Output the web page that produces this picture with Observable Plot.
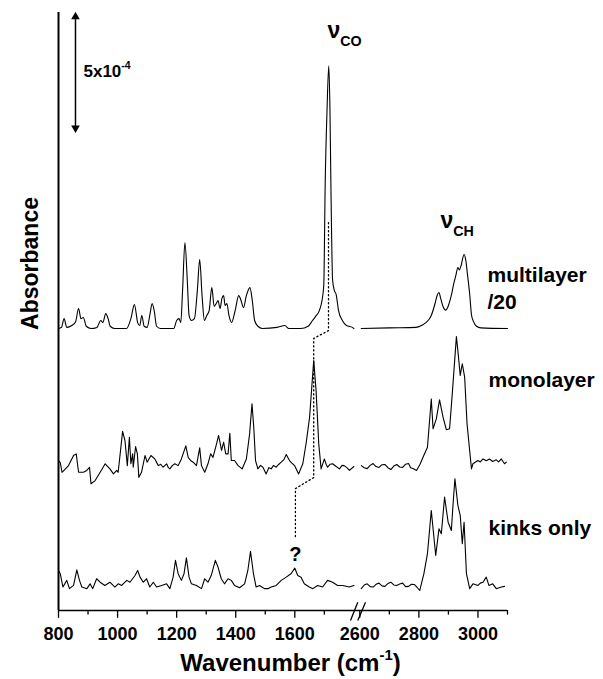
<!DOCTYPE html>
<html><head><meta charset="utf-8">
<script src="https://cdn.jsdelivr.net/npm/d3@7"></script>
<script src="https://cdn.jsdelivr.net/npm/@observablehq/plot@0.6"></script>
<style>body{margin:0;background:#fff}</style>
</head><body><div id="chart"></div>
<script>
// ---- data: [wavenumber (cm-1), absorbance (x1e-4, relative to the trace baseline)] ----
const multilayerLow = [[800,0],[810,0.05],[819,0.43],[828,0.05],[845,0.13],[858,0.3],[868,0.87],[876,0.43],[884,0.48],[894,0.1],[910,0],[930,0.05],[943,0.35],[950,0.26],[960,0.65],[968,0.43],[975,0.1],[990,0],[1030,0],[1045,0.43],[1057,1.04],[1068,0.26],[1075,0.13],[1082,0.57],[1090,0.1],[1100,0.05],[1110,0.65],[1117,1.09],[1124,0.78],[1132,0.1],[1145,0],[1190,0],[1200,0.35],[1208,0.43],[1214,0.26],[1220,1.65],[1228,3.74],[1236,2.09],[1242,0.57],[1250,0.35],[1260,0.43],[1270,1.65],[1278,3.0],[1286,1.43],[1294,0.35],[1302,0.57],[1310,0.78],[1319,1.78],[1327,0.96],[1334,1.09],[1340,1.22],[1347,0.87],[1353,1.3],[1359,1.43],[1364,1.0],[1370,1.09],[1377,0.57],[1386,0.26],[1398,0.78],[1410,1.43],[1418,1.22],[1426,0.91],[1436,1.43],[1448,1.78],[1456,1.22],[1464,0.35],[1475,0.1],[1490,0],[1540,0.05],[1566,0.13],[1580,0],[1620,0],[1645,0.1],[1660,0.35],[1670,0.52],[1683,0.78],[1692,1.22],[1698,1.87],[1703,6.43],[1709,9.48],[1715,11.43],[1719,9.48],[1722,6.43],[1728,2.09],[1734,1.65],[1740,1.48],[1748,0.78],[1761,0.35],[1775,0.13],[1795,0.05],[1800,0]];
const multilayerHigh = [[2605,0],[2700,0.03],[2790,0.05],[2803,0.1],[2815,0.18],[2825,0.27],[2842,0.57],[2855,1.1],[2862,1.45],[2868,1.57],[2874,1.3],[2882,0.95],[2891,0.8],[2900,1.0],[2910,1.45],[2918,1.95],[2925,2.3],[2932,2.65],[2937,2.55],[2943,2.75],[2953,3.22],[2959,2.95],[2965,2.3],[2972,1.5],[2978,0.6],[2985,0.3],[2995,0.1],[3010,0.03],[3100,0]];
const monolayerLow = [[800,0.26],[806,0.17],[812,-0.25],[834,0.04],[851,0.48],[860,0.55],[868,-0.25],[884,-0.25],[896,-0.17],[905,-0.03],[910,-0.75],[924,-0.61],[941,-0.25],[958,0.12],[974,-0.1],[986,-0.32],[997,-0.17],[1002,-0.25],[1017,1.53],[1025,1.13],[1033,0.04],[1040,1.27],[1045,0.12],[1051,0.55],[1053,-0.03],[1061,0.87],[1067,0.55],[1072,-0.47],[1081,-0.25],[1093,0.48],[1100,0.19],[1113,0.48],[1126,0.33],[1138,0.04],[1146,0.1],[1154,-0.03],[1166,0.12],[1172,-0.05],[1177,-0.1],[1186,0.05],[1194,0.12],[1205,0.04],[1216,0.33],[1231,0.9],[1239,0.4],[1248,0.25],[1256,0.19],[1267,0.04],[1278,0.81],[1284,0.04],[1295,-0.25],[1306,0.12],[1315,0.55],[1323,0.4],[1335,0.99],[1342,1.35],[1352,0.7],[1359,1.06],[1366,0.55],[1374,0.55],[1380,1.45],[1385,0.26],[1396,0.26],[1408,0.04],[1422,-0.1],[1436,0.33],[1447,1.42],[1455,2.73],[1461,1.71],[1467,0.26],[1475,-0.1],[1484,0.05],[1492,-0.03],[1503,-0.32],[1512,-0.05],[1520,-0.1],[1528,0.05],[1537,-0.03],[1546,0.1],[1554,0.19],[1563,0.3],[1571,0.52],[1582,0.26],[1590,0.15],[1599,0.04],[1613,-0.32],[1627,0.12],[1638,0.99],[1650,2.14],[1664,4.61],[1672,3.3],[1681,0.99],[1689,-0.1],[1700,0.33],[1706,0.1],[1711,-0.03],[1720,0.1],[1728,0.12],[1740,0.0],[1751,-0.1],[1760,0.05],[1767,0.04],[1776,-0.05],[1785,-0.17],[1800,0]];
const monolayerHigh = [[2605,0.04],[2615,-0.05],[2625,-0.09],[2635,0.05],[2645,0.13],[2655,0.0],[2665,-0.04],[2675,0.08],[2685,0.09],[2695,-0.05],[2705,-0.13],[2715,0.02],[2725,0.09],[2735,-0.02],[2745,-0.04],[2755,0.1],[2765,0.13],[2772,-0.05],[2780,-0.09],[2792,-0.17],[2804,0.1],[2814,0.4],[2829,0.84],[2842,2.94],[2848,1.64],[2859,2.07],[2870,2.9],[2882,2.14],[2893,1.6],[2904,1.64],[2913,3.16],[2927,5.65],[2932,5.04],[2940,3.96],[2947,4.47],[2955,3.88],[2963,1.86],[2978,-0.1],[2983,0.12],[3000,0.26],[3008,0.2],[3017,0.33],[3028,0.25],[3039,0.33],[3050,0.22],[3062,0.29],[3070,0.2],[3079,0.33],[3090,0.12],[3096,0.19]];
const kinksLow = [[800,0.65],[806,0.51],[815,-0.07],[828,0.22],[837,-0.14],[851,0],[862,0.68],[871,0.22],[879,-0.07],[896,-0.14],[907,0.07],[916,-0.14],[929,0.29],[941,0.14],[957,0],[974,0.14],[991,-0.07],[1002,0.07],[1014,0],[1031,0.22],[1042,0.14],[1059,0.43],[1068,0.65],[1076,0.36],[1087,0.14],[1098,0.29],[1109,-0.07],[1121,0.14],[1132,-0.07],[1149,0],[1166,0.07],[1177,-0.14],[1188,0.36],[1196,1.09],[1205,0.51],[1216,0.22],[1225,0.51],[1233,1.2],[1242,0.36],[1250,0.07],[1267,0],[1284,-0.14],[1295,0.29],[1306,0.14],[1317,0.43],[1331,1.09],[1340,0.8],[1351,0.29],[1362,0.07],[1374,0.29],[1385,0.22],[1396,0],[1413,-0.1],[1430,0.07],[1441,0.65],[1450,1.48],[1460,0.51],[1469,-0.07],[1481,0],[1497,-0.14],[1509,-0.14],[1520,-0.07],[1537,0],[1554,0.22],[1571,0.36],[1587,0.51],[1600,0.75],[1610,0.43],[1621,0.36],[1632,0.07],[1649,-0.07],[1661,-0.14],[1677,0],[1694,-0.07],[1711,0.22],[1728,0.14],[1745,0],[1762,0],[1784,-0.07],[1800,0]];
const kinksHigh = [[2605,-0.14],[2615,0.02],[2625,0.07],[2635,-0.05],[2645,-0.07],[2655,0.05],[2665,0.1],[2675,-0.02],[2685,-0.04],[2695,0.08],[2705,0.14],[2715,0.02],[2725,0],[2735,0.06],[2745,0.1],[2755,-0.05],[2765,-0.04],[2775,0.05],[2785,0.04],[2795,-0.1],[2803,-0.22],[2817,0.51],[2829,1.38],[2842,3.26],[2857,1.3],[2868,2.46],[2876,2.25],[2887,3.84],[2899,2.75],[2910,2.39],[2915,3.4],[2922,4.64],[2932,3.48],[2940,3.04],[2947,1.81],[2953,2.75],[2961,0.51],[2972,-0.14],[2983,0.07],[3000,0],[3008,0.1],[3017,0.14],[3028,0.36],[3037,0],[3050,0.07],[3062,-0.14],[3079,-0.07],[3090,-0.04]];

const traceNames = ["multilayer", "monolayer", "kinks only"];
const traceOffsets = [12.26, 6.26, 1.09];           // vertical stacking (x1e-4)
const traceParts = [[multilayerLow, multilayerHigh], [monolayerLow, monolayerHigh], [kinksLow, kinksHigh]];

const majorTicks = [800, 1000, 1200, 1400, 1600, 2600, 2800, 3000];
const minorTicks = [900, 1100, 1300, 1500, 1700, 2700, 2900, 3100];

// dotted guide following the C=O band shift [wavenumber, absorbance]
const coShiftGuide = [[1714,16.87],[1714,12.17],[1664,11.83],[1664,5.78],[1602,5.30],[1602,3.17]];

// ---- broken axis: 800–1800 then 2600–3100, same scale ----
const toU = w => (w <= 2000 ? w : w - 780);

const rowsSmooth = [], rowsNoisy = [];
traceParts.forEach((parts, i) => parts.forEach((arr, k) => arr.forEach(([w, a]) =>
  (i === 0 ? rowsSmooth : rowsNoisy).push({u: toU(w), v: a + traceOffsets[i], z: traceNames[i] + k}))));

const font = "Liberation Sans, Arial, Helvetica, sans-serif";
const T = (data, o) => Plot.text(data, {fill: "black", fontWeight: "bold", lineAnchor: "bottom", ...o});

const svg = Plot.plot({
  width: 603, height: 679,
  marginLeft: 58, marginRight: 96, marginTop: 10, marginBottom: 69,
  x: {domain: [800, 2320], axis: null},
  y: {domain: [0, 26.09], axis: null},
  style: {fontFamily: font, background: "white", overflow: "visible"},
  marks: [
    // axes
    Plot.ruleX([800], {y1: 0, y2: 26.0, stroke: "black", strokeWidth: 2}),
    Plot.ruleY([0], {x1: 800, x2: 2320, stroke: "black", strokeWidth: 1.5}),
    Plot.ruleX(majorTicks, {x: toU, y1: 0, y2: -0.34, stroke: "black", strokeWidth: 1.3}),
    Plot.ruleX(minorTicks, {x: toU, y1: 0, y2: -0.2, stroke: "black", strokeWidth: 1.3}),
    T(majorTicks, {x: toU, y: -1.3, text: d => String(d), fontSize: 18, textAnchor: "middle"}),
    Plot.link([{x1: 1788.5, y1: -0.43, x2: 1813.2, y2: 0.36}, {x1: 1813.2, y1: -0.43, x2: 1839.3, y2: 0.36}],
      {x1: "x1", y1: "y1", x2: "x2", y2: "y2", stroke: "black", strokeWidth: 1.3}),
    T([0], {x: 1585.4, y: -2.61, text: () => "Wavenumber (cm^{-1})", fontSize: 24, textAnchor: "middle"}),
    T([0], {x: 705.2, y: 15.09, text: () => "Absorbance", fontSize: 23, rotate: -90, textAnchor: "middle", lineAnchor: "middle"}),
    // scale bar
    Plot.link([0], {x1: 857.5, x2: 857.5, y1: 21.0, y2: 25.85, stroke: "black", strokeWidth: 1.5}),
    Plot.dot([{v: 25.82, r: 0}, {v: 20.98, r: 180}], {x: 857.5, y: "v", rotate: "r", symbol: "triangle", r: 3.2, fill: "black", stroke: null}),
    T([0], {x: 884.6, y: 23.22, text: () => "5x10^{-4}", fontSize: 17, textAnchor: "start"}),
    // spectra
    Plot.line(rowsSmooth, {x: "u", y: "v", z: "z", stroke: "black", strokeWidth: 1.1, curve: "monotone-x"}),
    Plot.line(rowsNoisy, {x: "u", y: "v", z: "z", stroke: "black", strokeWidth: 1.1, curve: "linear"}),
    Plot.line(coShiftGuide, {x: d => toU(d[0]), y: d => d[1], stroke: "black", strokeWidth: 1.3, strokeDasharray: "1.3,2.7"}),
    // annotations
    T([0], {x: 1710.6, y: 24.91, text: () => "ν_{CO}", fontSize: 23, textAnchor: "start"}),
    T([0], {x: 2093.2, y: 16.65, text: () => "ν_{CH}", fontSize: 23, textAnchor: "start"}),
    T([0], {x: toU(1602), y: 2.17, text: () => "?", fontSize: 20, textAnchor: "middle"}),
    T([0], {x: 2252.3, y: 13.09, text: () => "multilayer\n/20", fontSize: 21, lineHeight: 1.33, textAnchor: "start"}),
    T([0], {x: 2255.6, y: 9.70, text: () => "monolayer", fontSize: 21, textAnchor: "start"}),
    T([0], {x: 2255.6, y: 3.30, text: () => "kinks only", fontSize: 21, textAnchor: "start"})
  ]
});

// turn ^{..} / _{..} into superscript / subscript tspans
function richify(root) {
  const NS = "http://www.w3.org/2000/svg";
  root.querySelectorAll("text").forEach(t => {
    const s = t.textContent;
    if (!/[\^_]\{/.test(s)) return;
    const parts = s.split(/([\^_]\{[^}]*\})/).filter(p => p);
    t.textContent = "";
    let shift = 0;
    for (const p of parts) {
      const ts = document.createElementNS(NS, "tspan");
      let target = 0, size = 1, txt = p;
      if (p[0] === "^") { target = -0.42; size = 0.62; txt = p.slice(2, -1); }
      else if (p[0] === "_") { target = 0.38; size = 0.62; txt = p.slice(2, -1); }
      const d = target - shift;
      if (d) ts.setAttribute("dy", (d / size).toFixed(3) + "em");
      if (size !== 1) ts.setAttribute("font-size", (size * 100) + "%");
      ts.textContent = txt;
      t.appendChild(ts);
      shift = target;
    }
  });
}
richify(svg);
document.getElementById("chart").appendChild(svg);
</script></body></html>
